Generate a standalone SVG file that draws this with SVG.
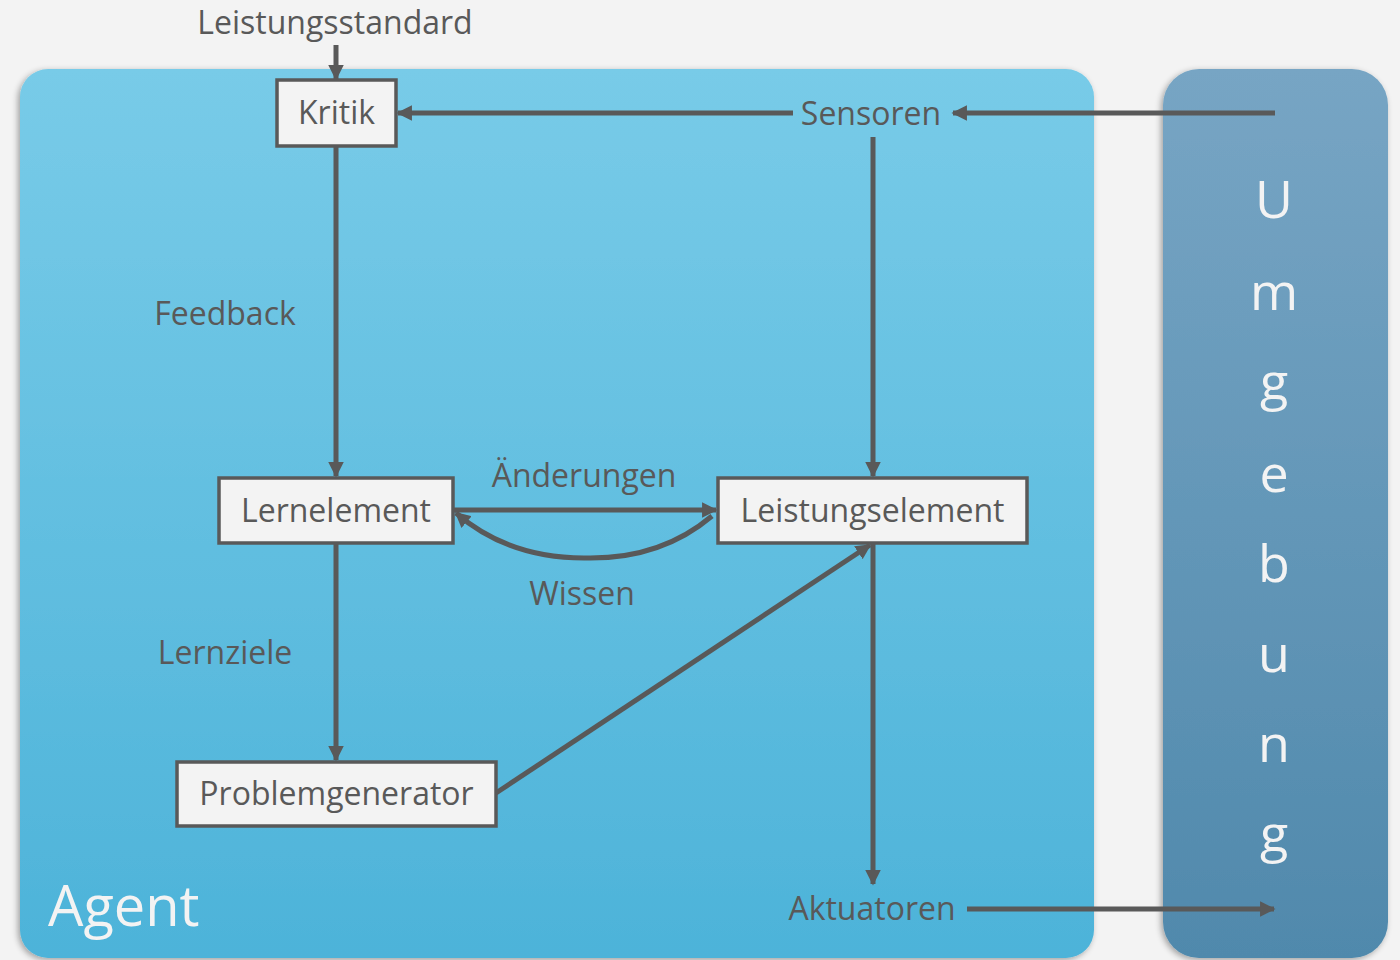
<svg xmlns="http://www.w3.org/2000/svg" width="1400" height="960" viewBox="0 0 1400 960">
<defs>
<linearGradient id="gAgent" x1="0" y1="0" x2="0" y2="1">
<stop offset="0" stop-color="#78cbe8"/>
<stop offset="1" stop-color="#4db3d9"/>
</linearGradient>
<linearGradient id="gEnv" x1="0" y1="0" x2="0" y2="1">
<stop offset="0" stop-color="#77a5c4"/>
<stop offset="1" stop-color="#5089ac"/>
</linearGradient>
<filter id="sh" x="-5%" y="-5%" width="110%" height="110%">
<feGaussianBlur in="SourceAlpha" stdDeviation="3"/>
<feOffset dx="-2" dy="2"/>
<feComponentTransfer><feFuncA type="linear" slope="0.35"/></feComponentTransfer>
<feMerge><feMergeNode/><feMergeNode in="SourceGraphic"/></feMerge>
</filter>
<marker id="ah" viewBox="0 0 10 10" refX="9" refY="5" markerWidth="3.1" markerHeight="3.1" orient="auto" markerUnits="strokeWidth">
<path d="M0,0 L10,5 L0,10 Z" fill="#595959"/>
</marker>
<style>
.box{fill:#f3f3f3;stroke:#595959;stroke-width:3.5}
.lbl{font-family:"Open Sans","Noto Sans",sans-serif;font-size:32px;fill:#595959;text-anchor:middle}
.con{fill:none;stroke:#595959;stroke-width:5}
.env{font-family:"Open Sans","Noto Sans",sans-serif;font-size:52px;fill:#f3f3f3;text-anchor:middle}
</style>
</defs>
<rect width="1400" height="960" fill="#f3f3f3"/>
<g id="agent">
<rect x="20" y="69" width="1074" height="889" rx="28" fill="url(#gAgent)" filter="url(#sh)"/>
<text x="48" y="926" style="font-family:'Open Sans','Noto Sans',sans-serif;font-size:56px;fill:#f3f3f3">Agent</text>
</g>
<g id="umgebung">
<rect x="1163" y="69" width="225" height="889" rx="36" fill="url(#gEnv)" filter="url(#sh)"/>
<text class="env" x="1274" y="218">U</text>
<text class="env" x="1274" y="310">m</text>
<text class="env" x="1274" y="400">g</text>
<text class="env" x="1274" y="492">e</text>
<text class="env" x="1274" y="582">b</text>
<text class="env" x="1274" y="672">u</text>
<text class="env" x="1274" y="762">n</text>
<text class="env" x="1274" y="852">g</text>
</g>
<g id="connectors">
<path class="con" d="M336,45 V79" marker-end="url(#ah)"/>
<path class="con" d="M793,113 H398" marker-end="url(#ah)"/>
<path class="con" d="M1275,113 H953" marker-end="url(#ah)"/>
<path class="con" d="M873,137 V476" marker-end="url(#ah)"/>
<path class="con" d="M336,146 V476" marker-end="url(#ah)"/>
<path class="con" d="M336,543 V760" marker-end="url(#ah)"/>
<path class="con" d="M453,510 H716" marker-end="url(#ah)"/>
<path class="con" d="M712,516 Q660,560 584,558 Q508,558 456,513" marker-end="url(#ah)"/>
<path class="con" d="M496,793 L870,545" marker-end="url(#ah)"/>
<path class="con" d="M873,543 V884" marker-end="url(#ah)"/>
<path class="con" d="M967,909 H1274" marker-end="url(#ah)"/>
<text class="lbl" x="335" y="34">Leistungsstandard</text>
<text class="lbl" x="871" y="125">Sensoren</text>
<text class="lbl" x="225" y="325">Feedback</text>
<text class="lbl" x="225" y="664">Lernziele</text>
<text class="lbl" x="584" y="487">Änderungen</text>
<text class="lbl" x="582" y="605">Wissen</text>
<text class="lbl" x="872" y="920">Aktuatoren</text>
</g>
<g id="kritik">
<rect class="box" x="277" y="80" width="119" height="66"/>
<text class="lbl" x="336.5" y="124">Kritik</text>
</g>
<g id="lernelement">
<rect class="box" x="219" y="478" width="234" height="65"/>
<text class="lbl" x="336" y="522">Lernelement</text>
</g>
<g id="leistungselement">
<rect class="box" x="718" y="478" width="309" height="65"/>
<text class="lbl" x="872.5" y="522">Leistungselement</text>
</g>
<g id="problemgenerator">
<rect class="box" x="177" y="762" width="319" height="64"/>
<text class="lbl" x="336.5" y="805">Problemgenerator</text>
</g>
</svg>
